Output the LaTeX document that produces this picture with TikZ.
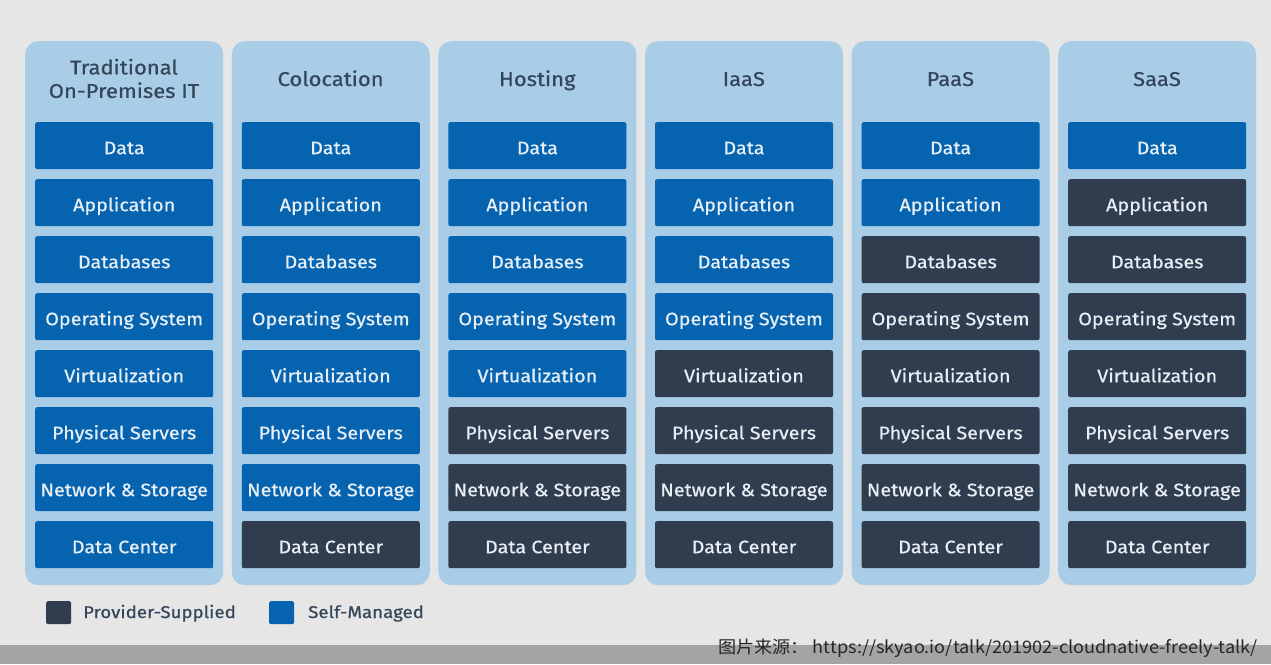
\documentclass[tikz,border=0pt]{standalone}
\usepackage{fontspec}
\setmainfont{Fira Sans}[FakeStretch=1.1,FakeBold=0.6]
\newfontfamily\cjk{Noto Sans CJK SC}[FakeStretch=1.05]
\definecolor{bgc}{HTML}{E6E6E6}
\definecolor{bandc}{HTML}{A4A4A4}
\definecolor{colc}{HTML}{A9CDE7}
\definecolor{selfc}{HTML}{0563AF}
\definecolor{provc}{HTML}{2F3D4F}
\definecolor{headc}{HTML}{34465A}
\definecolor{boxtxt}{HTML}{E8EEF5}
\tikzset{
  colbox/.style={fill=colc, rounded corners=13pt, minimum width=198pt, minimum height=544pt, anchor=north west, inner sep=0pt},
  headtxt/.style={text=headc, font=\fontsize{20}{23.5}\selectfont, align=center, inner sep=0pt},
  layer/.style={rounded corners=2pt, minimum width=178pt, minimum height=47pt, anchor=north west, inner sep=0pt, text height=17pt, text depth=0pt, text=boxtxt, font=\fontsize{18}{20}\selectfont},
  selfbox/.style={layer, fill=selfc},
  provbox/.style={layer, fill=provc},
  legsq/.style={rounded corners=1.5pt, minimum width=25pt, minimum height=23pt, anchor=north west, inner sep=0pt},
  legtxt/.style={anchor=base west, text=headc, font=\fontsize{17}{20}\selectfont, inner sep=0pt}
}
\begin{document}
\begin{tikzpicture}[x=1pt,y=-1pt]
\useasboundingbox (0,0) rectangle (1271,664);
\fill[bgc] (0,0) rectangle (1271,664);
\fill[bandc] (0,645) rectangle (1271,664);
\foreach \i/\n/\t in {1/8/{Traditional\\On-Premises IT},2/7/Colocation,3/5/Hosting,4/4/IaaS,5/2/PaaS,6/1/SaaS}{
  \pgfmathsetmacro{\xx}{25+(\i-1)*206.6}
  \node[colbox] (col\i) at (\xx,41) {};
  \ifnum\i=1\relax
    \node[headtxt, anchor=center] (head\i) at (\xx+99,78.5) {\t};
  \else
    \node[headtxt, anchor=base] (head\i) at (\xx+99,86) {\t};
  \fi
  \foreach \j/\l in {1/Data,2/Application,3/Databases,4/Operating System,5/Virtualization,6/Physical Servers,7/Network \& Storage,8/Data Center}{
    \ifnum\j>\n\relax
      \node[provbox] (c\i r\j) at (\xx+10,122+\j*57-57) {\l};
    \else
      \node[selfbox] (c\i r\j) at (\xx+10,122+\j*57-57) {\l};
    \fi
  }
}
\node[legsq, fill=provc] (legprov) at (46,601) {};
\node[legtxt] (legprovt) at (83,618) {Provider-Supplied};
\node[legsq, fill=selfc] (legself) at (269,601) {};
\node[legtxt] (legselft) at (308,618) {Self-Managed};
\node[anchor=base east, inner sep=0pt, text=black!85, font=\cjk\fontsize{17.3}{20}\selectfont] (src) at (1258,653) {图片来源：\ https://skyao.io/talk/201902-cloudnative-freely-talk/};
\end{tikzpicture}
\end{document}
